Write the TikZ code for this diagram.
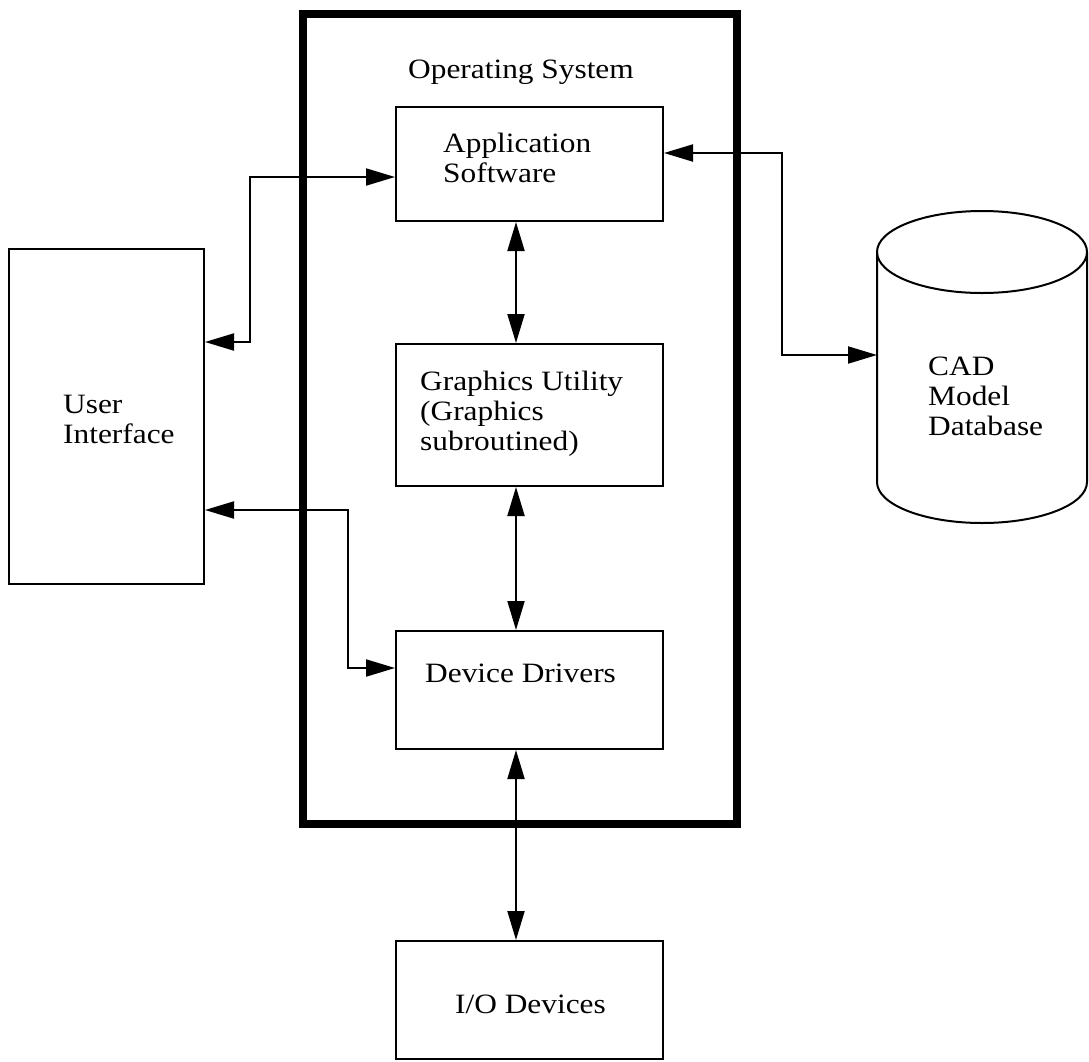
\documentclass[tikz,border=0pt]{standalone}
\usepackage{fontspec}
\setmainfont{Liberation Serif}[FakeStretch=1.12]
\usetikzlibrary{arrows.meta}
\begin{document}
\begin{tikzpicture}[x=1pt,y=-1pt,
  box/.style={draw, line width=2pt, rectangle, inner sep=0pt, anchor=north west},
  osbox/.style={draw, line width=8pt, rectangle, inner sep=0pt, anchor=north west},
  lbl/.style={anchor=base west, inner sep=0pt, font=\fontsize{28}{30}\selectfont},
  tip/.tip={Triangle[length=29pt,width=17pt]},
  conn/.style={line width=2pt, tip-tip},
]
\useasboundingbox (0,0) rectangle (1089,1061);

% boxes
\node[osbox, minimum width=434pt, minimum height=810pt] (os) at (299,10) {};
\node[box, minimum width=267pt, minimum height=114pt] (app) at (395,106) {};
\node[box, minimum width=267pt, minimum height=142pt] (gfx) at (395,343) {};
\node[box, minimum width=267pt, minimum height=118pt] (dd) at (395,630) {};
\node[box, minimum width=267pt, minimum height=118pt] (io) at (395,940) {};
\node[box, minimum width=195pt, minimum height=335pt] (ui) at (8,248) {};
\node[anchor=north west, inner sep=0pt, minimum width=210pt, minimum height=313pt] (cad) at (877,210) {};

% cylinder
\draw[line width=2pt] (982,252) ellipse (105 and 41);
\draw[line width=2pt] (877,252) -- (877,482) arc (180:0:105 and 41) -- (1087,252);

% labels
\node[lbl] (oslbl) at (408,78) {Operating System};
\node[lbl] (applbl) at (443,152) {\begin{tabular}[t]{@{}l@{}}Application\\Software\end{tabular}};
\node[lbl] (gfxlbl) at (420,390) {\begin{tabular}[t]{@{}l@{}}Graphics Utility\\(Graphics\\subroutined)\end{tabular}};
\node[lbl] (ddlbl) at (425,682) {Device Drivers};
\node[lbl] (iolbl) at (455,1013) {I/O Devices};
\node[lbl] (uilbl) at (63,413) {\begin{tabular}[t]{@{}l@{}}User\\Interface\end{tabular}};
\node[lbl] (cadlbl) at (928,375) {\begin{tabular}[t]{@{}l@{}}CAD\\Model\\Database\end{tabular}};

% connectors
\draw[conn] (ui.east |- 0,342) -| (250,177) -- (app.west |- 0,177);
\draw[conn] (app.east |- 0,153) -| (782,355) -- (cad.west |- 0,355);
\draw[conn] (app.south -| 516,0) -- (gfx.north -| 516,0);
\draw[conn] (gfx.south -| 516,0) -- (dd.north -| 516,0);
\draw[conn] (ui.east |- 0,510) -| (348,668) -- (dd.west |- 0,668);
\draw[conn] (dd.south -| 516,0) -- (io.north -| 516,0);
\end{tikzpicture}
\end{document}
